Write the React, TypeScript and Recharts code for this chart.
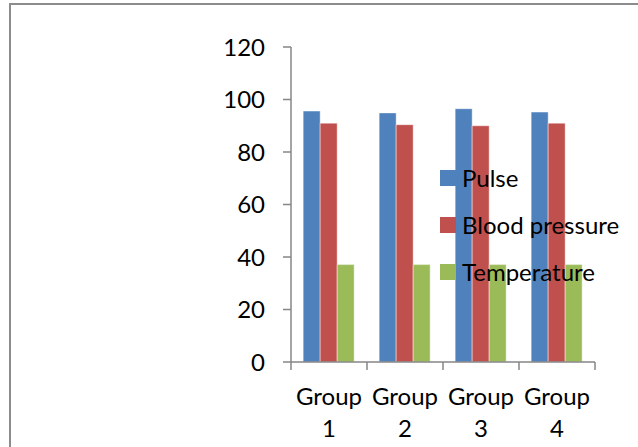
import { BarChart, Bar, XAxis, YAxis, Legend } from "recharts";

const groups = ["Group 1", "Group 2", "Group 3", "Group 4"];
const seriesNames = ["Pulse", "Blood pressure", "Temperature"];
const seriesColors = ["#4F81BD", "#C0504D", "#9BBB59"];
const pulse = [95.6, 94.9, 96.5, 95.2];
const bloodPressure = [91.0, 90.4, 90.0, 91.0];
const temperature = [37.1, 37.1, 37.1, 37.1];
const yTicks = [0, 20, 40, 60, 80, 100, 120];

const data = groups.map((g, i) => ({
  group: g,
  Pulse: pulse[i],
  "Blood pressure": bloodPressure[i],
  Temperature: temperature[i],
}));

const W = 638;
const H = 447;
const M = { top: 47, right: 43, left: 231, bottom: 0 };
const Y_W = 60;
const AXIS = "#868686";
const FONT = "Lato, 'Open Sans', sans-serif";
const FS = 24;

const plotW = W - M.left - M.right - Y_W;

const GroupTick = (props: any) => {
  const { x, y, payload, index, visibleTicksCount } = props;
  const count = visibleTicksCount || groups.length;
  const half = plotW / count / 2;
  const words = String(payload.value).split(" ");
  return (
    <g>
      <line x1={x - half} x2={x - half} y1={y} y2={y + 8} stroke={AXIS} strokeWidth={1.5} />
      {index === count - 1 && (
        <line x1={x + half} x2={x + half} y1={y} y2={y + 8} stroke={AXIS} strokeWidth={1.5} />
      )}
      <text x={x} y={y + 43} textAnchor="middle" fill="#000" fontSize={FS} fontFamily={FONT}>
        {words[0]}
      </text>
      <text x={x} y={y + 75} textAnchor="middle" fill="#000" fontSize={FS} fontFamily={FONT}>
        {words[1]}
      </text>
    </g>
  );
};

const LegendBox = () => (
  <div style={{ fontFamily: FONT, fontSize: FS, color: "#000" }}>
    {seriesNames.map((name, i) => (
      <div key={name} style={{ display: "flex", alignItems: "center", height: 47, whiteSpace: "nowrap" }}>
        <span
          style={{
            display: "inline-block",
            width: 16,
            height: 16,
            background: seriesColors[i],
            marginRight: 6,
          }}
        />
        <span>{name}</span>
      </div>
    ))}
  </div>
);

const bar = { isAnimationActive: false, stroke: "#ffffff", strokeOpacity: 0.55, strokeWidth: 0.8 };

export default function App() {
  return (
    <div style={{ position: "absolute", left: 0, top: 0, width: W, height: H, background: "#fff", overflow: "hidden" }}>
      <div
        style={{
          position: "absolute",
          left: 9,
          top: 3,
          width: W,
          height: H,
          borderLeft: `2px solid #8c8c8c`,
          borderTop: `2px solid #8c8c8c`,
        }}
      />
      <div style={{ position: "absolute", left: 0, top: 0 }}>
        <BarChart width={W} height={H} data={data} margin={M} barCategoryGap="16%" barGap={0}>
          <XAxis
            dataKey="group"
            height={85}
            axisLine={{ stroke: AXIS, strokeWidth: 1.5 }}
            tickLine={false}
            tickSize={0}
            tickMargin={0}
            interval={0}
            tick={<GroupTick />}
          />
          <YAxis
            width={Y_W}
            domain={[0, 120]}
            ticks={yTicks}
            interval={0}
            axisLine={{ stroke: AXIS, strokeWidth: 1.5 }}
            tickLine={{ stroke: AXIS, strokeWidth: 1.5 }}
            tickSize={8}
            tickMargin={18}
            tick={{ fill: "#000", fontSize: FS, fontFamily: FONT }}
          />
          <Legend
            layout="vertical"
            align="center"
            verticalAlign="middle"
            content={<LegendBox />}
            wrapperStyle={{ left: 440, top: 154, width: 200 }}
          />
          {seriesNames.map((name, i) => (
            <Bar key={name} dataKey={name} fill={seriesColors[i]} {...bar} />
          ))}
        </BarChart>
      </div>
    </div>
  );
}
